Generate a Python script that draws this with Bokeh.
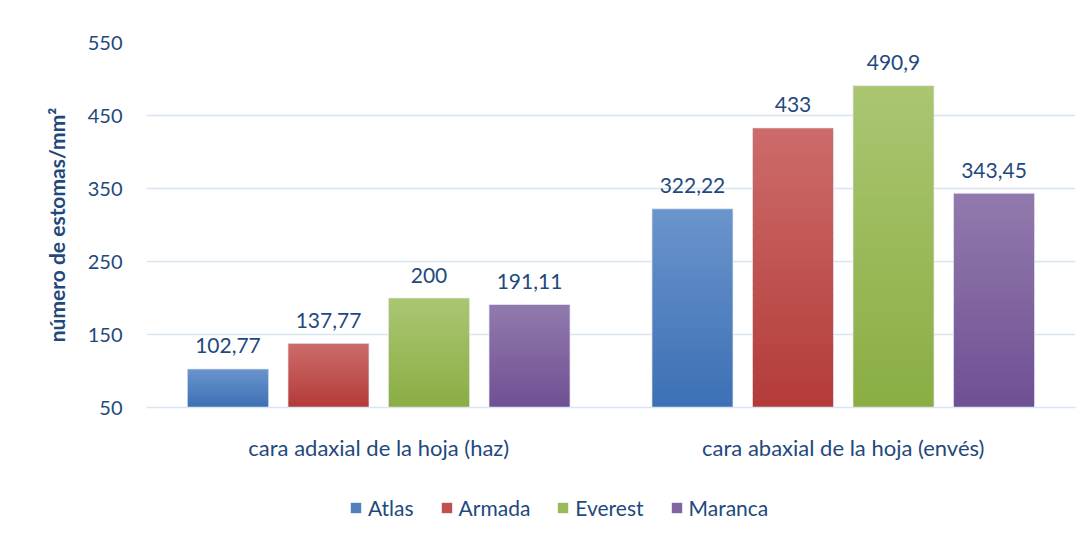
from bokeh.plotting import figure
from bokeh.layouts import column
from bokeh.models import ColumnDataSource, FactorRange, Range1d, Legend, LegendItem, LabelSet, FixedTicker
from bokeh.transform import dodge
from bokeh.core.properties import value
from bokeh.embed import file_html
from bokeh.resources import INLINE

categories = ["cara adaxial de la hoja (haz)", "cara abaxial de la hoja (envés)"]
series = ["Atlas", "Armada", "Everest", "Maranca"]
atlas = [102.77, 322.22]
armada = [137.77, 433]
everest = [200, 490.9]
maranca = [191.11, 343.45]
label_atlas = ["102,77", "322,22"]
label_armada = ["137,77", "433"]
label_everest = ["200", "490,9"]
label_maranca = ["191,11", "343,45"]
y_ticks = [50, 150, 250, 350, 450, 550]

values = [atlas, armada, everest, maranca]
labels = [label_atlas, label_armada, label_everest, label_maranca]
top_colors = [(0x6b, 0x94, 0xcc), (0xcc, 0x6c, 0x6a), (0xab, 0xc6, 0x72), (0x92, 0x7a, 0xad)]
bot_colors = [(0x3c, 0x70, 0xb4), (0xb3, 0x3b, 0x39), (0x8a, 0xad, 0x43), (0x6f, 0x50, 0x93)]
mid_colors = ["#4f81bd", "#c0504d", "#9bbb59", "#8064a2"]
offsets = [-0.3246, -0.1082, 0.1082, 0.3246]
bar_w = 0.1744
base = 50
TXT = "#1f497d"
FONT = "Lato"
GRID = "#dae5f2"

p = figure(x_range=FactorRange(*categories, range_padding=0), y_range=Range1d(50, 550),
           width=1083, height=480, output_backend="svg", toolbar_location=None,
           min_border_left=146, min_border_right=8, min_border_top=42, min_border_bottom=73)
p.outline_line_color = None
p.background_fill_color = "white"
p.border_fill_color = "white"

# separate strip for the legend
lg = figure(x_range=Range1d(0, 1), y_range=Range1d(0, 1), width=1083, height=50,
            output_backend="svg", toolbar_location=None,
            x_axis_location=None, y_axis_location=None,
            min_border_left=0, min_border_right=0, min_border_top=0, min_border_bottom=0)
lg.outline_line_color = None
lg.grid.visible = False
lg.background_fill_color = "white"
lg.border_fill_color = "white"

N = 40
legend_items = []
for i, (s, vals) in enumerate(zip(series, values)):
    xs, bots, tops, cols = [], [], [], []
    for c, v in zip(categories, vals):
        for k in range(N):
            f = (k + 0.5) / N
            col = tuple(int(round(bot_colors[i][j] + (top_colors[i][j] - bot_colors[i][j]) * f)) for j in range(3))
            xs.append(c)
            bots.append(base + (v - base) * k / N)
            tops.append(min(v, base + (v - base) * (k + 1) / N + 2.0))
            cols.append("#%02x%02x%02x" % col)
    src = ColumnDataSource(dict(x=xs, bottom=bots, top=tops, color=cols))
    p.vbar(x=dodge("x", offsets[i], range=p.x_range), bottom="bottom", top="top", width=bar_w,
           fill_color="color", line_color=None, source=src)
    osrc = ColumnDataSource(dict(x=categories, top=vals, lab=labels[i]))
    p.vbar(x=dodge("x", offsets[i], range=p.x_range), bottom=base, top="top", width=bar_w,
           fill_color=None, line_color="#e4eaf4", line_width=1, line_alpha=0.7, source=osrc)
    lr = lg.quad(left=[0.0], right=[0.1], bottom=[-10], top=[-9], fill_color=mid_colors[i], line_color=None)
    legend_items.append(LegendItem(label=s, renderers=[lr]))
    ls = LabelSet(x=dodge("x", offsets[i], range=p.x_range), y="top", text="lab", source=osrc,
                  text_align="center", text_baseline="middle", y_offset=23,
                  text_font=value(FONT), text_font_size="21px", text_color=TXT)
    p.add_layout(ls)

p.yaxis.ticker = FixedTicker(ticks=y_ticks)
p.yaxis.axis_line_color = None
p.yaxis.major_tick_line_color = None
p.yaxis.minor_tick_line_color = None
p.yaxis.major_tick_out = 0
p.yaxis.major_tick_in = 0
p.yaxis.major_label_text_font = FONT
p.yaxis.major_label_text_font_size = "20px"
p.yaxis.major_label_text_color = TXT
p.yaxis.major_label_standoff = 24
p.yaxis.axis_label = "número de estomas/mm²"
p.yaxis.axis_label_text_font = FONT
p.yaxis.axis_label_text_font_style = "bold"
p.yaxis.axis_label_text_font_size = "21px"
p.yaxis.axis_label_text_color = TXT
p.yaxis.axis_label_standoff = 16

p.xaxis.axis_line_color = GRID
p.xaxis.axis_line_width = 1.5
p.xaxis.major_tick_line_color = None
p.xaxis.minor_tick_line_color = None
p.xaxis.major_tick_out = 0
p.xaxis.major_tick_in = 0
p.xaxis.major_label_text_font = FONT
p.xaxis.major_label_text_font_size = "22px"
p.xaxis.major_label_text_color = TXT
p.xaxis.major_label_standoff = 26

p.xgrid.grid_line_color = None
p.ygrid.grid_line_color = GRID
p.ygrid.grid_line_width = 1.5

legend = Legend(items=legend_items, orientation="horizontal", location=(203, 10),
                label_text_font=FONT, label_text_font_size="21px", label_text_color=TXT,
                glyph_width=13, glyph_height=13, spacing=26, label_standoff=6,
                border_line_color=None, background_fill_alpha=0, padding=2, margin=0)
lg.add_layout(legend)

layout = column(p, lg, spacing=0)
open("out.html", "w").write(file_html(layout, INLINE))
